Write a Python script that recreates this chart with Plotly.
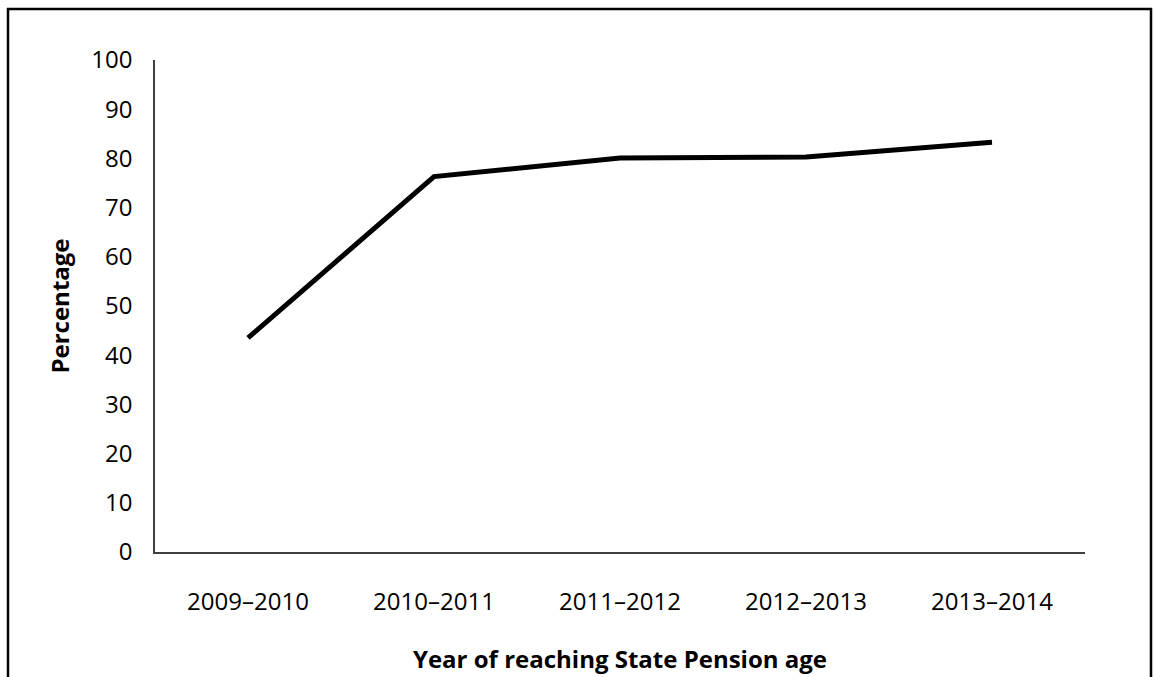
import plotly.graph_objects as go

categories = ["2009–2010", "2010–2011", "2011–2012", "2012–2013", "2013–2014"]
percentage = [43.5, 76.3, 80.1, 80.3, 83.3]
y_ticks = [0, 10, 20, 30, 40, 50, 60, 70, 80, 90, 100]

W, H = 1154, 677
L, R, T, B = 155, 69, 60, 125
pw, ph = W - L - R, H - T - B

fig = go.Figure()
fig.add_trace(go.Scatter(
    x=categories, y=percentage, mode="lines",
    line=dict(color="black", width=5),
    showlegend=False, hoverinfo="skip",
))

font = "Open Sans, DejaVu Sans, sans-serif"
fs = 24
fig.update_layout(
    width=W, height=H,
    margin=dict(l=L, r=R, t=T, b=B),
    paper_bgcolor="white", plot_bgcolor="white",
    font=dict(family=font, color="black", size=fs),
    xaxis=dict(
        type="category", range=[-0.5, 4.5], showgrid=False, zeroline=False,
        showline=True, linecolor="#404040", linewidth=1.5,
        ticks="", tickfont=dict(size=fs), automargin=False,
        ticklabelstandoff=27,
        title=dict(text="<b>Year of reaching State Pension age</b>",
                   font=dict(size=fs), standoff=36),
    ),
    yaxis=dict(
        range=[0, 100], tickvals=y_ticks, showgrid=False, zeroline=False,
        showline=True, linecolor="#404040", linewidth=1.5,
        ticks="", tickfont=dict(size=fs), ticklabelstandoff=16, automargin=False,
        title=dict(text="<b>Percentage</b>", font=dict(size=fs), standoff=15),
    ),
    shapes=[dict(
        type="rect", xref="paper", yref="paper",
        x0=(8 - L) / pw, x1=(1151 - L) / pw,
        y0=(H - B - 720) / ph, y1=(H - B - 9) / ph,
        line=dict(color="black", width=2.5), fillcolor="rgba(0,0,0,0)",
        layer="above",
    )],
)
fig.write_html(
    "out.html",
    config={"displayModeBar": False},
    post_script="document.body.style.margin='0';document.body.style.overflow='hidden';",
)
